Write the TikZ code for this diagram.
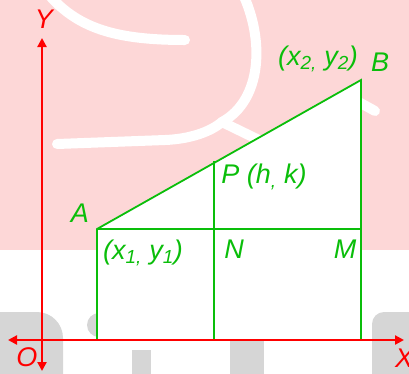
\documentclass[tikz,border=0pt]{standalone}
\usepackage{fontspec}
\setmainfont{Liberation Sans}
\usetikzlibrary{arrows.meta}
\definecolor{gr}{RGB}{10,190,10}
\definecolor{rd}{RGB}{255,0,0}
\definecolor{pinkbg}{RGB}{253,215,215}
\definecolor{wmgray}{RGB}{214,214,214}
\tikzset{
  glabel/.style={text=gr,font=\fontsize{27}{30}\selectfont\itshape,inner sep=0pt},
  rlabel/.style={text=rd,font=\fontsize{27}{30}\selectfont\itshape,inner sep=0pt},
  gline/.style={draw=gr,line width=1.8pt},
  axis/.style={draw=rd,line width=2.2pt,{Triangle[length=9pt,width=9pt]}-{Triangle[length=9pt,width=9pt]}},
  wm/.style={draw=white,line width=10pt,line cap=round}
}
\begin{document}
\begin{tikzpicture}[x=1pt,y=-1pt]
\useasboundingbox (0,0) rectangle (409,373);
% background watermark
\fill[pinkbg] (0,0) rectangle (409,250);
\begin{scope}
\clip (0,0) rectangle (409,250);
\draw[wm] (50,-4) .. controls (80,30) and (120,40) .. (185,40);
\draw[wm] (242,-8) .. controls (265,40) and (262,100) .. (222,122);
\draw[wm] (57,144) -- (165,140) .. controls (190,139) and (210,132) .. (222,122);
\draw[wm] (222,122) -- (300,160);
\draw[wm] (355,100) -- (375,111);
\end{scope}
\fill[wmgray, rounded corners=26pt] (-30,312) rectangle (63,400);
\fill[wmgray] (99,325) circle (12);
\fill[wmgray] (132,350) rectangle (151,380);
\fill[wmgray] (230,320) rectangle (264,380);
\fill[wmgray, rounded corners=12pt] (372,312) rectangle (440,400);
% points
\coordinate (A) at (97,229);
\coordinate (B) at (361,80);
\coordinate (N) at (214,229);
\coordinate (M) at (361,229);
\coordinate (P) at (214,161);
\coordinate (A0) at (97,340);
\coordinate (N0) at (214,340);
\coordinate (M0) at (361,340);
\coordinate (O) at (42,340);
\coordinate (Xl) at (8,340);
\coordinate (Xr) at (404,340);
\coordinate (Yt) at (42,38);
\coordinate (Yb) at (42,371);
% white figure
\fill[white] (A) -- (B) -- (M0) -- (A0) -- cycle;
% green lines
\draw[gline] (A0) -- (A) -- (B) -- (M0);
\draw[gline] (A) -- (M);
\draw[gline] (N0) -- (P);
% axes
\draw[axis] (Xl) -- (Xr);
\draw[axis] (Yb) -- (Yt);
% labels
\node[rlabel] (ly) at (44,19) {Y};
\node[rlabel] (lo) at (27,357) {O};
\node[rlabel,anchor=west] (lx) at (395,358) {X};
\node[glabel] (lb) at (380,62) {B};
\node[glabel] (lxy2) at (318,59) {(x\textsubscript{2,} y\textsubscript{2})};
\node[glabel] (la) at (80,213) {A};
\node[glabel] (lxy1) at (143,253) {(x\textsubscript{1,} y\textsubscript{1})};
\node[glabel] (ln) at (234,249) {N};
\node[glabel] (lm) at (345,249) {M};
\node[glabel] (lp) at (264,177) {P (h\textsubscript{,} k)};
\end{tikzpicture}
\end{document}
